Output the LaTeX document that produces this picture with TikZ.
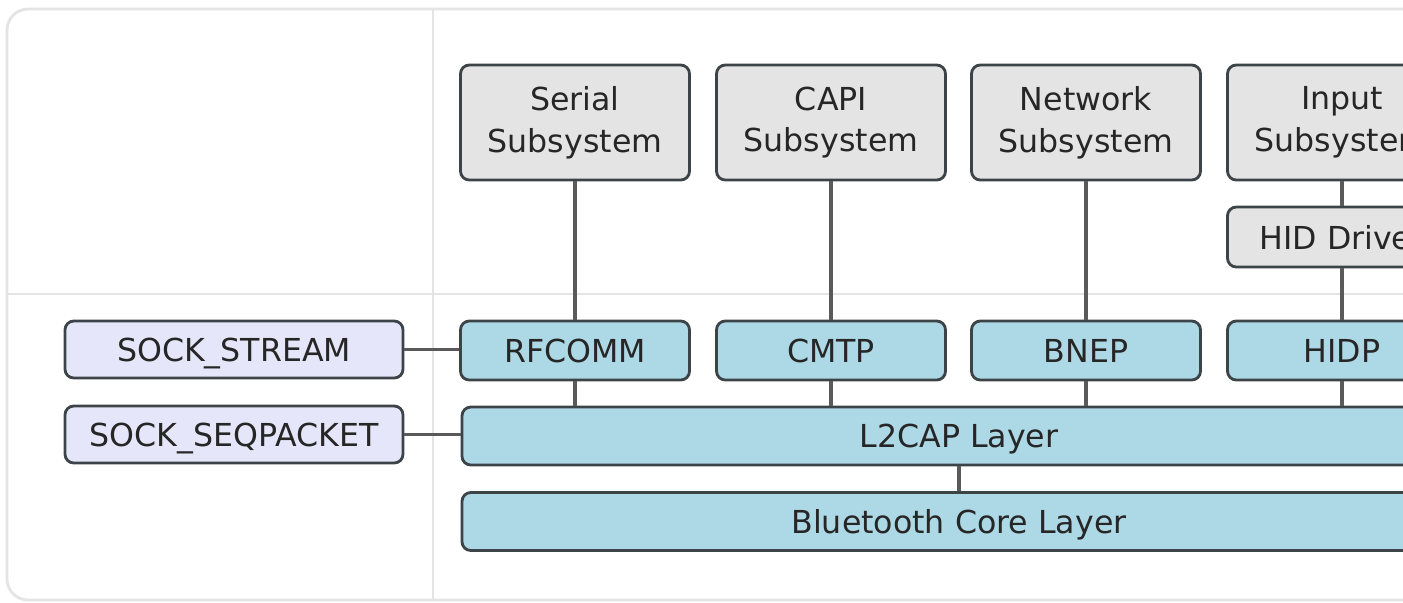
\documentclass[tikz,border=0pt]{standalone}
\usepackage{fontspec}
\setmainfont{DejaVu Sans}
\usepackage{tikz}
\usepackage{xcolor}

\definecolor{subsysgray}{HTML}{E4E4E4}
\definecolor{protoblue}{HTML}{ADD8E6}
\definecolor{socklav}{HTML}{E6E6FA}
\definecolor{edgedark}{HTML}{3C4448}
\definecolor{linkgray}{HTML}{5A5A5A}
\definecolor{framegray}{HTML}{E4E4E4}

\tikzset{
    box/.style={draw=edgedark, line width=0.8pt, rounded corners=2.5pt, align=center,
        inner sep=0pt, text=black!85, font=\fontsize{9}{11.9}\selectfont},
    oneline/.style={box, text depth=0pt},
    subsys/.style={box, fill=subsysgray, minimum width=2.29cm, minimum height=1.15cm},
    driver/.style={oneline, fill=subsysgray, minimum width=2.29cm, minimum height=0.60cm},
    proto/.style={oneline, fill=protoblue, minimum width=2.29cm, minimum height=0.59cm},
    layer/.style={oneline, fill=protoblue, minimum width=9.94cm, minimum height=0.58cm},
    sock/.style={oneline, fill=socklav, minimum width=3.38cm, minimum height=0.57cm},
    link/.style={draw=linkgray, line width=0.9pt},
    divider/.style={draw=framegray, line width=0.8pt}
}

\begin{document}
\begin{tikzpicture}
    \useasboundingbox (0,0) rectangle (14.03,-6.02);
    \clip (0,0) rectangle (14.03,-6.02);
    \fill[white] (0,0) rectangle (14.03,-6.02);

    % Frame and the two dividers
    \draw[divider, rounded corners=6pt] (0.07,-0.09) rectangle (15.20,-6.00);
    \draw[divider] (4.33,-0.09) -- (4.33,-6.00);
    \draw[divider] (0.07,-2.94) -- (15.20,-2.94);

    % Kernel subsystems
    \node[subsys] (serial)  at (5.75,-1.225)  {Serial\\Subsystem};
    \node[subsys] (capi)    at (8.31,-1.225)  {CAPI\\Subsystem};
    \node[subsys] (network) at (10.86,-1.225) {Network\\Subsystem};
    \node[subsys] (input)   at (13.42,-1.225) {Input\\Subsystem};
    \node[driver] (hid)     at (13.42,-2.37)  {HID Driver};

    % Protocols
    \node[proto] (rfcomm) at (5.75,-3.505)  {RFCOMM};
    \node[proto] (cmtp)   at (8.31,-3.505)  {CMTP};
    \node[proto] (bnep)   at (10.86,-3.505) {BNEP};
    \node[proto] (hidp)   at (13.42,-3.505) {HIDP};

    % Layers
    \node[layer] (l2cap) at (9.59,-4.36)  {L2CAP Layer};
    \node[layer] (core)  at (9.59,-5.215) {Bluetooth Core Layer};

    % Socket types
    \node[sock] (stream)    at (2.34,-3.495) {SOCK\_STREAM};
    \node[sock] (seqpacket) at (2.34,-4.345) {SOCK\_SEQPACKET};

    % Connections
    \draw[link] (serial) -- (rfcomm);
    \draw[link] (capi) -- (cmtp);
    \draw[link] (network) -- (bnep);
    \draw[link] (input) -- (hid);
    \draw[link] (hid) -- (hidp);
    \foreach \p in {rfcomm, cmtp, bnep, hidp}
        \draw[link] (\p) -- (\p |- l2cap.north);
    \draw[link] (l2cap) -- (core);
    \draw[link] (stream.east) -- (stream.east -| rfcomm.west);
    \draw[link] (seqpacket.east) -- (seqpacket.east -| l2cap.west);
\end{tikzpicture}
\end{document}
